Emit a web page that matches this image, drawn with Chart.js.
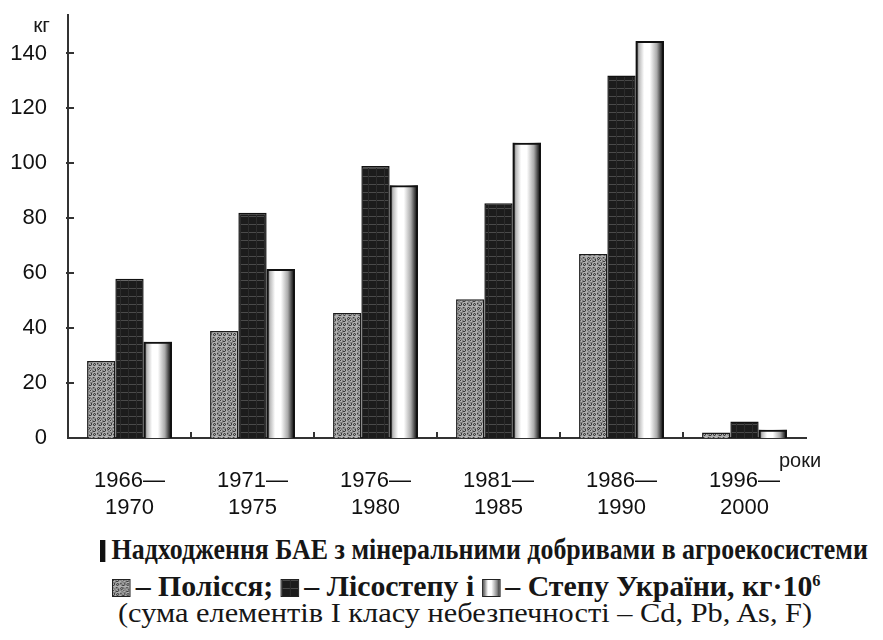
<!DOCTYPE html>
<html>
<head>
<meta charset="utf-8">
<script src="https://cdn.jsdelivr.net/npm/chart.js@4.4.1/dist/chart.umd.min.js"></script>
<style>
  body { margin: 0; background: #fff; width: 883px; height: 640px; overflow: hidden; position: relative; }
  #wrap { position: absolute; left: 0; top: 0; width: 883px; height: 530px; }
  .cap { position: absolute; white-space: nowrap; font-family: "Liberation Serif", "Times New Roman", serif;
         color: #161616; transform-origin: 0 0; line-height: 1; }
  .mark { display: inline-block; width: 6px; height: 22px; background: #111; margin-right: 7px; vertical-align: -3px; }
  .sw { display: inline-block; width: 18px; height: 18px; box-sizing: border-box; border: 1.5px solid #222;
        vertical-align: -1px; margin: 0 5px 0 0; }
  sup { font-size: 55%; vertical-align: 10px; line-height: 0; }
</style>
</head>
<body>
<div id="wrap"><canvas id="baeChart"></canvas></div>

<div class="cap" id="cap1" style="left:100px;top:535px;font-size:29px;font-weight:bold"><span class="mark"></span>Надходження БАЕ з мінеральними добривами в агроекосистеми</div>
<div class="cap" id="cap2" style="left:112px;top:572px;font-size:29px;font-weight:bold"><span class="sw" id="sw1"></span>– Полісся; <span class="sw" id="sw2"></span>– Лісостепу і <span class="sw" id="sw3"></span>– Степу України, кг·10<sup>6</sup></div>
<div class="cap" id="cap3" style="left:118px;top:599px;font-size:28px">(сума елементів І класу небезпечності – Cd, Pb, As, F)</div>

<script>
// periods (two-line category labels)
const periods = [
  ["1966—", "1970"],
  ["1971—", "1975"],
  ["1976—", "1980"],
  ["1981—", "1985"],
  ["1986—", "1990"],
  ["1996—", "2000"],
];
// kg per region, by period
const polissia = [28, 39, 45.5, 50.5, 67, 2];
const lisostep = [58, 82, 99, 85.5, 132, 6];
const stepUkr = [35, 61.5, 92, 107.5, 144.5, 3];
const yTicks = [0, 20, 40, 60, 80, 100, 120, 140];

// speckled grey tile for Polissia
function speckleTile() {
  const c = document.createElement("canvas");
  c.width = c.height = 10;
  const g = c.getContext("2d");
  for (let y = 0; y < 10; y++) {
    for (let x = 0; x < 10; x++) {
      const v = (x * 47 + y * 73 + x * y * 29) % 13;
      const s = v < 3 ? 60 : v < 6 ? 125 : v < 10 ? 175 : 145;
      g.fillStyle = `rgb(${s},${s},${s})`;
      g.fillRect(x, y, 1, 1);
    }
  }
  return c;
}

// dark tile with faint grid lines for Lisostep
function darkTile() {
  const c = document.createElement("canvas");
  c.width = 8; c.height = 8;
  const g = c.getContext("2d");
  g.fillStyle = "#1c1c1c";
  g.fillRect(0, 0, 8, 8);
  g.fillStyle = "#4a4a4a";
  g.fillRect(0, 0, 8, 1);
  g.fillStyle = "#2c2c2c";
  g.fillRect(0, 0, 1, 8);
  return c;
}

const tileA = speckleTile();
const tileB = darkTile();
const pctx = document.createElement("canvas").getContext("2d");
const patA = pctx.createPattern(tileA, "repeat");
const patB = pctx.createPattern(tileB, "repeat");

document.getElementById("sw1").style.background = `url(${tileA.toDataURL()})`;
document.getElementById("sw2").style.background = `url(${tileB.toDataURL()})`;
document.getElementById("sw3").style.background = "linear-gradient(90deg,#555,#fff 30%,#fff 50%,#888 85%,#333)";

// shaded "cylinder" fill for the Step bars
const shadeBars = {
  id: "shadeBars",
  beforeDatasetDraw(chart, args) {
    if (args.index !== 2) return;
    const c = chart.ctx;
    args.meta.data.forEach(el => {
      const { x, y, base, width } = el.getProps(["x", "y", "base", "width"], true);
      const l = x - width / 2;
      const gr = c.createLinearGradient(l, 0, l + width, 0);
      gr.addColorStop(0, "#444");
      gr.addColorStop(0.12, "#bbb");
      gr.addColorStop(0.3, "#fff");
      gr.addColorStop(0.5, "#fff");
      gr.addColorStop(0.75, "#aaa");
      gr.addColorStop(0.9, "#3a3a3a");
      gr.addColorStop(1, "#111");
      c.save();
      c.fillStyle = gr;
      c.fillRect(l, y, width, base - y);
      c.restore();
    });
  },
};

// inward tick marks, axis captions
const axisMarks = {
  id: "axisMarks",
  afterDraw(chart) {
    const c = chart.ctx;
    const xs = chart.scales.x, ys = chart.scales.y;
    const area = chart.chartArea;
    c.save();
    c.strokeStyle = "#333";
    c.lineWidth = 2;
    c.beginPath();
    yTicks.slice(1).forEach(v => {
      const py = Math.round(ys.getPixelForValue(v));
      c.moveTo(area.left - 2, py);
      c.lineTo(area.left + 6, py);
    });
    for (let i = 1; i < periods.length; i++) {
      const px = Math.round((xs.getPixelForValue(i - 1) + xs.getPixelForValue(i)) / 2);
      c.moveTo(px, area.bottom);
      c.lineTo(px, area.bottom - 6);
    }
    c.stroke();
    c.fillStyle = "#1a1a1a";
    c.font = "21px 'Liberation Sans', Arial, sans-serif";
    c.textAlign = "right";
    c.fillText("кг", area.left - 18, 32);
    c.textAlign = "left";
    c.font = "20px 'Liberation Sans', Arial, sans-serif";
    c.fillText("роки", area.right - 27, area.bottom + 29);
    c.restore();
  },
};

Chart.defaults.font.family = "'Liberation Sans', Arial, sans-serif";
Chart.defaults.color = "#111";

new Chart(document.getElementById("baeChart"), {
  type: "bar",
  data: {
    labels: periods,
    datasets: [
      { label: "Полісся", data: polissia, backgroundColor: patA, borderColor: "#1a1a1a", borderWidth: 1.5 },
      { label: "Лісостеп", data: lisostep, backgroundColor: patB, borderColor: "#111", borderWidth: 1.5 },
      { label: "Степ", data: stepUkr, backgroundColor: "rgba(0,0,0,0)", borderColor: "#111", borderWidth: 2 },
    ],
  },
  options: {
    responsive: true,
    maintainAspectRatio: false,
    animation: false,
    layout: { padding: { top: 15, right: 77, left: 0, bottom: 0 } },
    plugins: { legend: { display: false }, tooltip: { enabled: false } },
    datasets: { bar: { barPercentage: 1, categoryPercentage: 0.69 } },
    scales: {
      x: {
        grid: { display: false },
        border: { display: true, color: "#333", width: 2 },
        ticks: { font: { size: 22 }, padding: 22, maxRotation: 0 },
        afterFit: s => { s.height = 92; s.paddingLeft = 0; s.paddingRight = 0; },
      },
      y: {
        min: 0,
        max: 154,
        grid: { display: false },
        border: { display: true, color: "#333", width: 2 },
        ticks: { stepSize: 20, font: { size: 22 }, padding: 13 },
        afterBuildTicks: s => { s.ticks = yTicks.map(v => ({ value: v })); },
        afterFit: s => { s.width = 68; s.paddingTop = 0; s.paddingBottom = 0; },
      },
    },
  },
  plugins: [shadeBars, axisMarks],
});

// squeeze the caption lines to the narrow book typeface width
const capWidths = { cap1: 768, cap2: 708, cap3: 694 };
Object.keys(capWidths).forEach(id => {
  const el = document.getElementById(id);
  const k = capWidths[id] / el.scrollWidth;
  el.style.transform = `scaleX(${k.toFixed(3)})`;
});
</script>
</body>
</html>
